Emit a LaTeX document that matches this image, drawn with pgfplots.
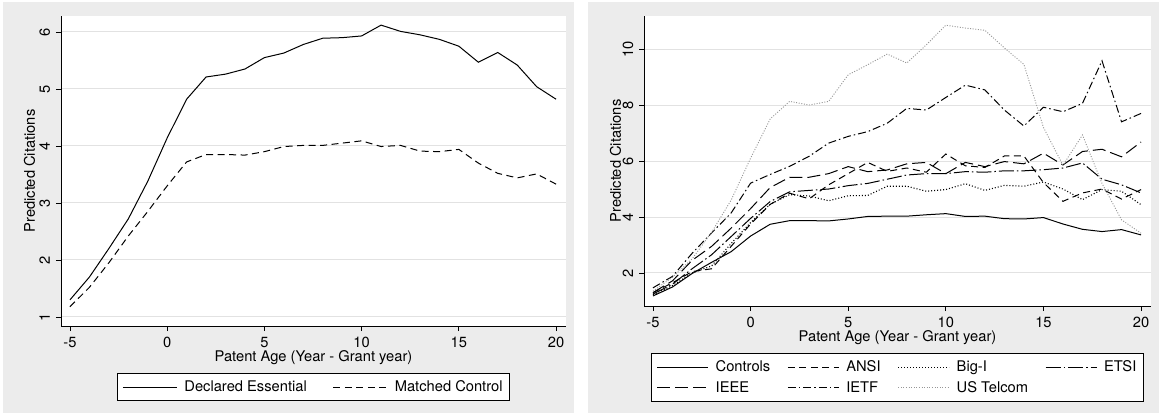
\documentclass[border=0pt]{standalone}
\usepackage{fontspec}
\setmainfont{TeX Gyre Heros}
\usepackage{pgfplots}
\pgfplotsset{compat=1.18}

\definecolor{panel}{RGB}{236,236,236}
\definecolor{gridc}{RGB}{226,226,226}
\definecolor{telcom}{RGB}{150,150,150}

\newcommand{\chartfont}{\fontsize{14.7}{17}\selectfont}

\pgfplotsset{
  stata/.style={
    scale only axis,
    axis x line*=bottom,
    axis y line*=left,
    axis line style={-, black, line width=0.8pt},
    axis background/.style={fill=white},
    tick align=outside,
    major tick length=5pt,
    tick style={black, line width=0.8pt},
    ymajorgrids,
    grid style={gridc, line width=1pt},
    xtick={-5,0,5,10,15,20},
    xmin=-5.46, xmax=20.51,
    font=\chartfont,
    /pgf/number format/assume math mode=true,
    yticklabel style={rotate=90, anchor=base},
    yticklabel shift=6pt,
    xticklabel style={anchor=base},
    xticklabel shift=16pt,
    xlabel={Patent Age (Year - Grant year)},
    ylabel={Predicted Citations},
    legend cell align=left,
    legend style={draw=black, line width=0.8pt, fill=white, anchor=north,
      font=\chartfont, inner xsep=5pt, inner ysep=5.5pt,
      nodes={inner sep=2pt, text depth=0.15em}},
  },
  solidl/.style={black, line width=1pt, solid},
  dashl/.style={black, line width=1pt, dash pattern=on 7pt off 4.5pt},
  longdash/.style={black, line width=1pt, dash pattern=on 13pt off 5pt},
  dotl/.style={black, line width=1.1pt, dash pattern=on 1pt off 2pt},
  telcoml/.style={telcom, line width=0.9pt, dash pattern=on 1pt off 1.6pt},
  longdashdot/.style={black, line width=1pt, dash pattern=on 15pt off 3pt on 1.5pt off 3pt},
  dashdot/.style={black, line width=1pt, dash pattern=on 8pt off 3pt on 1.5pt off 3pt},
}

\begin{document}
\begin{tikzpicture}
\path[use as bounding box] (0pt,0pt) rectangle (1161pt,-419pt);
\fill[white] (0pt,0pt) rectangle (1161pt,-419pt);
\fill[panel] (3pt,-2pt) rectangle (574pt,-413pt);
\fill[panel] (588pt,-2pt) rectangle (1159pt,-413pt);

% left panel
\begin{axis}[stata,
  at={(61pt,-326pt)}, anchor=south west,
  width=505pt, height=310pt,
  ymin=0.842, ymax=6.28,
  ytick={1,2,3,4,5,6},
  xlabel style={at={(axis description cs:0.5,-0.1161)}, anchor=base},
  ylabel style={at={(axis description cs:-0.0515,0.5)}, anchor=base},
  legend columns=2,
  legend image code/.code={\draw[#1] (0pt,0pt) -- (54pt,0pt);},
  legend style={at={(axis description cs:0.5,-0.1516)},
    /tikz/every even column/.append style={column sep=24pt},
    /tikz/every odd column/.append style={column sep=5pt}},
]
\addplot[solidl] coordinates {
(-5,1.30) (-4,1.70) (-3,2.20) (-2,2.72) (-1,3.38) (0,4.14) (1,4.82) (2,5.21) (3,5.26)
(4,5.35) (5,5.55) (6,5.63) (7,5.78) (8,5.89) (9,5.90) (10,5.93) (11,6.12) (12,6.01)
(13,5.95) (14,5.87) (15,5.75) (16,5.47) (17,5.64) (18,5.42) (19,5.04) (20,4.82)};
\addlegendentry{Declared Essential}
\addplot[dashl] coordinates {
(-5,1.18) (-4,1.52) (-3,1.95) (-2,2.42) (-1,2.85) (0,3.30) (1,3.72) (2,3.85) (3,3.85)
(4,3.84) (5,3.90) (6,3.99) (7,4.01) (8,4.01) (9,4.05) (10,4.09) (11,3.99) (12,4.01)
(13,3.91) (14,3.90) (15,3.94) (16,3.70) (17,3.52) (18,3.44) (19,3.51) (20,3.33)};
\addlegendentry{Matched Control}
\end{axis}

% right panel
\begin{axis}[stata,
  at={(644pt,-306pt)}, anchor=south west,
  width=507pt, height=290pt,
  ymin=0.821, ymax=11.18,
  ytick={2,4,6,8,10},
  xlabel style={at={(axis description cs:0.5,-0.1241)}, anchor=base},
  ylabel style={at={(axis description cs:-0.0454,0.5)}, anchor=base},
  legend columns=4,
  legend image code/.code={\draw[#1] (0pt,0pt) -- (51pt,0pt);},
  legend style={at={(axis description cs:0.5,-0.162)}, row sep=4pt,
    /tikz/every even column/.append style={column sep=15pt},
    /tikz/every odd column/.append style={column sep=5pt}},
]
\addplot[solidl] coordinates {
(-5,1.18) (-4,1.50) (-3,1.98) (-2,2.38) (-1,2.76) (0,3.32) (1,3.74) (2,3.87) (3,3.87)
(4,3.86) (5,3.93) (6,4.02) (7,4.03) (8,4.03) (9,4.08) (10,4.12) (11,4.02) (12,4.03)
(13,3.94) (14,3.93) (15,3.98) (16,3.75) (17,3.56) (18,3.48) (19,3.55) (20,3.36)};
\addlegendentry{Controls}
\addplot[dashl] coordinates {
(-5,1.30) (-4,1.65) (-3,2.05) (-2,2.15) (-1,2.95) (0,3.75) (1,4.45) (2,4.85) (3,4.65)
(4,5.15) (5,5.55) (6,5.95) (7,5.63) (8,5.75) (9,5.60) (10,6.25) (11,5.83) (12,5.77)
(13,6.18) (14,6.18) (15,5.23) (16,4.56) (17,4.86) (18,5.00) (19,4.64) (20,4.98)};
\addlegendentry{ANSI}
\addplot[dotl] coordinates {
(-5,1.22) (-4,1.55) (-3,2.00) (-2,2.25) (-1,3.05) (0,3.80) (1,4.45) (2,4.80) (3,4.75)
(4,4.58) (5,4.76) (6,4.77) (7,5.10) (8,5.10) (9,4.92) (10,4.98) (11,5.19) (12,4.95)
(13,5.13) (14,5.10) (15,5.25) (16,5.00) (17,4.62) (18,4.98) (19,4.92) (20,4.44)};
\addlegendentry{Big-I}
\addplot[longdashdot] coordinates {
(-5,1.25) (-4,1.60) (-3,2.15) (-2,2.65) (-1,3.30) (0,3.95) (1,4.55) (2,4.90) (3,4.95)
(4,5.00) (5,5.12) (6,5.20) (7,5.35) (8,5.50) (9,5.55) (10,5.55) (11,5.62) (12,5.60)
(13,5.65) (14,5.65) (15,5.69) (16,5.75) (17,5.93) (18,5.35) (19,5.15) (20,4.86)};
\addlegendentry{ETSI}
\addplot[longdash] coordinates {
(-5,1.30) (-4,1.72) (-3,2.45) (-2,2.95) (-1,3.60) (0,4.30) (1,5.05) (2,5.42) (3,5.42)
(4,5.55) (5,5.80) (6,5.62) (7,5.68) (8,5.90) (9,5.95) (10,5.55) (11,5.95) (12,5.80)
(13,5.98) (14,5.90) (15,6.28) (16,5.86) (17,6.34) (18,6.42) (19,6.15) (20,6.68)};
\addlegendentry{IEEE}
\addplot[dashdot] coordinates {
(-5,1.47) (-4,1.88) (-3,2.70) (-2,3.43) (-1,4.14) (0,5.21) (1,5.52) (2,5.81) (3,6.17)
(4,6.64) (5,6.88) (6,7.05) (7,7.35) (8,7.88) (9,7.82) (10,8.27) (11,8.71) (12,8.54)
(13,7.82) (14,7.25) (15,7.92) (16,7.76) (17,8.06) (18,9.58) (19,7.40) (20,7.70)};
\addlegendentry{IETF}
\addplot[telcoml] coordinates {
(-5,1.35) (-4,1.85) (-3,2.50) (-2,3.45) (-1,4.60) (0,6.10) (1,7.50) (2,8.13) (3,8.00)
(4,8.13) (5,9.08) (6,9.44) (7,9.82) (8,9.50) (9,10.15) (10,10.85) (11,10.75) (12,10.67)
(13,10.04) (14,9.45) (15,7.20) (16,5.85) (17,6.93) (18,5.20) (19,3.90) (20,3.42)};
\addlegendentry{US Telcom}
\end{axis}
\end{tikzpicture}
\end{document}
